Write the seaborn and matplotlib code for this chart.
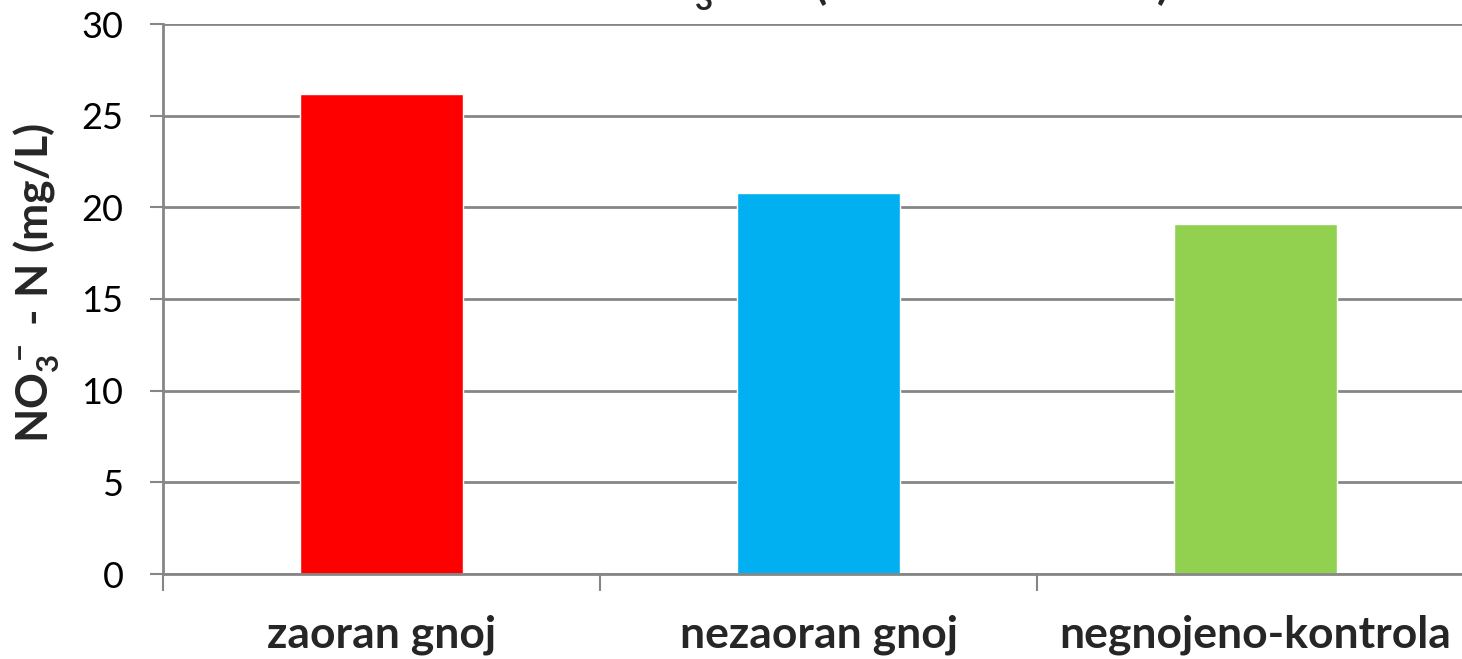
import matplotlib
matplotlib.use("Agg")
import matplotlib.pyplot as plt
from matplotlib.ticker import FixedLocator
import seaborn as sns
import pandas as pd

# Nitrate-nitrogen concentration per treatment
treatments = ["zaoran gnoj", "nezaoran gnoj", "negnojeno-kontrola"]
no3_n = [26.2, 20.8, 19.1]
bar_colors = ["#FF0000", "#00B0F0", "#92D050"]
y_ticks = [0, 5, 10, 15, 20, 25, 30]

df = pd.DataFrame({"treatment": treatments, "value": no3_n})

sns.set_theme(style="white")
plt.rcParams["font.family"] = ["Lato", "DejaVu Sans"]
plt.rcParams["mathtext.fontset"] = "custom"
plt.rcParams["mathtext.rm"] = "Lato"
plt.rcParams["mathtext.bf"] = "Lato:bold"

W, H = 1462, 659
fig = plt.figure(figsize=(W / 100, H / 100), dpi=100)
# plot area runs slightly past the right edge of the canvas
ax = fig.add_axes([163 / W, 85 / H, 1311 / W, 550 / H])

sns.barplot(data=df, x="treatment", y="value", hue="treatment",
            palette=bar_colors, width=0.373, dodge=False, legend=False,
            saturation=1, ax=ax)

grid_c = "#868686"
ax.set_xlim(-0.5, 2.5)
ax.set_ylim(0, 30)
ax.set_yticks(y_ticks)
ax.yaxis.grid(True, color=grid_c, linewidth=2)
ax.set_axisbelow(True)
for s in ["top", "right"]:
    ax.spines[s].set_visible(False)
for s in ["left", "bottom"]:
    ax.spines[s].set_color(grid_c)
    ax.spines[s].set_linewidth(2)

ax.tick_params(axis="y", which="major", direction="out", length=9.5,
               width=1.5, color=grid_c, labelsize=26, pad=19, left=True)
ax.tick_params(axis="x", which="major", length=0, labelsize=32, pad=29)
ax.xaxis.set_minor_locator(FixedLocator([-0.5, 0.5, 1.5]))
ax.tick_params(axis="x", which="minor", direction="out", length=12,
               width=1.5, color=grid_c, bottom=True)
for lab in ax.get_xticklabels():
    lab.set_fontweight("bold")
for lab in ax.get_yticklabels():
    lab.set_color("black")

ax.set_xlabel("")
ax.set_ylabel(r"$\mathbf{NO_3^{\,-}}$ - N (mg/L)", fontsize=32,
              fontweight="bold")
ax.yaxis.set_label_coords((62 - 163) / 1311, (574 - 283) / 550)

# Chart title sits above the top edge of the canvas
fig.text(624 / W, 1 - 13 / H, r"$\mathbf{NO_3^{\,-}}$ - N (sezona 2011-12.)",
         ha="left", va="bottom", fontsize=32, fontweight="bold")

fig.savefig("out.png", dpi=100)
